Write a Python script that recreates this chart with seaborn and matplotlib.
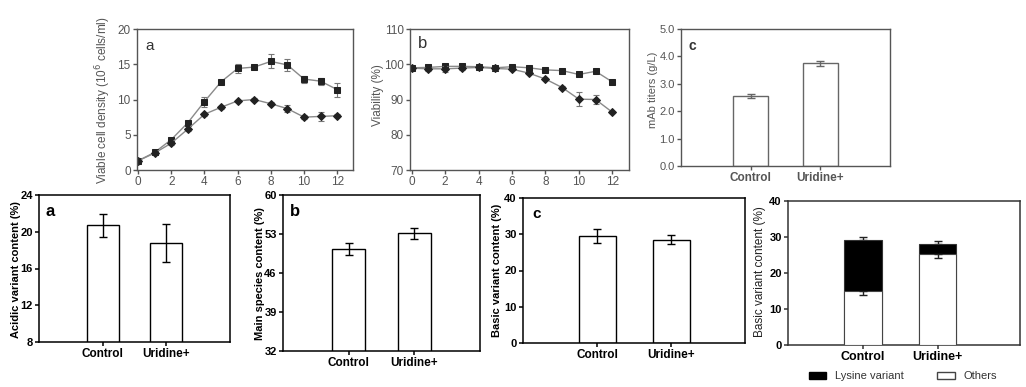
import matplotlib
matplotlib.use("Agg")
import matplotlib.pyplot as plt
import seaborn as sns
import numpy as np
import pandas as pd
from matplotlib.patches import Patch

# ---- data ----
days = list(range(13))
vcd_uridine = [1.3, 2.5, 4.3, 6.7, 9.7, 12.5, 14.4, 14.6, 15.4, 14.9, 12.9, 12.6, 11.4]
vcd_uridine_err = [0.1, 0.1, 0.3, 0.3, 0.7, 0.2, 0.6, 0.3, 1.0, 0.8, 0.5, 0.5, 1.0]
vcd_control = [1.3, 2.4, 3.8, 5.8, 7.9, 8.9, 9.8, 10.0, 9.4, 8.7, 7.5, 7.6, 7.7]
vcd_control_err = [0.1, 0.1, 0.2, 0.2, 0.2, 0.2, 0.2, 0.2, 0.2, 0.5, 0.3, 0.6, 0.2]

via_uridine = [99.0, 99.1, 99.4, 99.4, 99.3, 99.0, 99.3, 99.0, 98.4, 98.2, 97.1, 98.0, 95.0]
via_uridine_err = [0.2, 0.4, 0.5, 0.5, 0.3, 0.4, 0.4, 0.2, 0.3, 0.3, 0.3, 0.3, 0.6]
via_control = [98.9, 98.7, 98.7, 98.9, 99.1, 98.8, 98.6, 97.5, 95.8, 93.4, 90.1, 90.0, 86.4]
via_control_err = [0.2, 0.5, 0.8, 0.5, 0.3, 0.3, 0.3, 0.3, 0.3, 0.3, 1.9, 1.3, 0.3]

groups = ["Control", "Uridine+"]
titer = [2.55, 3.75]
titer_err = [0.08, 0.10]
acidic = [20.7, 18.8]
acidic_err = [1.25, 2.05]
main_sp = [50.3, 53.1]
main_sp_err = [1.1, 1.05]
basic = [29.5, 28.5]
basic_err = [1.9, 1.25]
others = [15.0, 25.3]
others_err = [1.1, 1.0]
lysine = [14.1, 2.8]
basic_tot_err = [0.9, 0.8]

sns.set_theme(style="ticks")
plt.rcParams["font.family"] = ["Liberation Sans", "DejaVu Sans"]

W, H = 1026, 387
fig = plt.figure(figsize=(W / 100, H / 100), dpi=100)
fig.patch.set_facecolor("white")


def add_ax(l, t, r, b):
    return fig.add_axes([l / W, 1 - b / H, (r - l) / W, (b - t) / H])


def style_ax(ax, col, lw, bold, size=8):
    for s in ax.spines.values():
        s.set_color(col)
        s.set_linewidth(lw)
        s.set_visible(True)
    ax.tick_params(colors=col, length=3, width=lw, labelsize=size, pad=1.5)
    for lab in ax.get_xticklabels() + ax.get_yticklabels():
        lab.set_fontweight("bold" if bold else "normal")
        lab.set_color(col if not bold else "black")
    ax.set_xlabel("")
    ax.set_ylabel("")


def ylab(x, y, s, col="black", bold=True, size=8):
    fig.text(x / W, 1 - y / H, s, rotation=90, ha="center", va="center",
             fontsize=size, color=col, fontweight="bold" if bold else "normal")


def letter(x, y, s, bold, size, col="black"):
    fig.text(x / W, 1 - y / H, s, ha="center", va="center", fontsize=size,
             fontweight="bold" if bold else "normal", color=col)


gray = "#555555"

# ---- top a: viable cell density ----
df_vcd = pd.DataFrame({"day": days * 2, "vcd": vcd_uridine + vcd_control,
                       "grp": ["Uridine+"] * 13 + ["Control"] * 13})
ax = add_ax(137, 29, 353, 170)
for g, mk, ms, err in [("Uridine+", "s", 4.5, vcd_uridine_err), ("Control", "D", 3.8, vcd_control_err)]:
    sub = df_vcd[df_vcd.grp == g]
    ax.errorbar(sub.day, sub.vcd, yerr=err, fmt="none", ecolor="#777777", capsize=2, lw=0.8, capthick=0.8)
    sns.lineplot(data=sub, x="day", y="vcd", ax=ax, color="#8a8a8a", lw=1, marker=mk,
                 markersize=ms, markerfacecolor="#222222", markeredgecolor="#222222")
ax.set_xlim(-0.06, 12.95)
ax.set_ylim(0, 20)
ax.set_xticks(range(0, 13, 2))
ax.set_yticks([0, 5, 10, 15, 20])
style_ax(ax, gray, 1.0, False, 8.5)
ylab(103, 100, "Viable cell density (10$^6$ cells/ml)", col=gray, bold=False, size=8.5)
letter(150, 46, "a", False, 11, "#333333")

# ---- top b: viability ----
df_via = pd.DataFrame({"day": days * 2, "via": via_uridine + via_control,
                       "grp": ["Uridine+"] * 13 + ["Control"] * 13})
ax = add_ax(410, 29, 629, 170)
for g, mk, ms, err in [("Uridine+", "s", 4.5, via_uridine_err), ("Control", "D", 3.8, via_control_err)]:
    sub = df_via[df_via.grp == g]
    ax.errorbar(sub.day, sub.via, yerr=err, fmt="none", ecolor="#777777", capsize=2, lw=0.8, capthick=0.8)
    sns.lineplot(data=sub, x="day", y="via", ax=ax, color="#8a8a8a", lw=1, marker=mk,
                 markersize=ms, markerfacecolor="#222222", markeredgecolor="#222222")
ax.set_xlim(-0.1, 13)
ax.set_ylim(70, 110)
ax.set_xticks(range(0, 13, 2))
ax.set_yticks([70, 80, 90, 100, 110])
style_ax(ax, gray, 1.0, False, 8.5)
ylab(378, 95, "Viability (%)", col=gray, bold=False, size=8.5)
letter(423, 44, "b", False, 12, "#333333")


def bars(ax, vals, errs, ecol, lw):
    d = pd.DataFrame({"grp": groups, "v": vals})
    sns.barplot(data=d, x="grp", y="v", ax=ax, color="white", edgecolor=ecol,
                linewidth=lw, width=0.5, errorbar=None)
    ax.errorbar([0, 1], vals, yerr=errs, fmt="none", ecolor=ecol, capsize=3, lw=lw, capthick=lw)
    ax.set_xlim(-1.0, 2.0)


# ---- top c: mAb titers ----
ax = add_ax(681, 29, 890, 166)
bars(ax, titer, titer_err, "#666666", 1.0)
ax.set_ylim(0, 5)
ax.set_yticks(np.arange(0, 5.01, 1.0))
ax.set_yticklabels([f"{v:.1f}" for v in np.arange(0, 5.01, 1.0)])
style_ax(ax, gray, 1.0, False)
for lab in ax.get_xticklabels():
    lab.set_fontsize(8.5)
    lab.set_fontweight("bold")
ylab(653, 90, "mAb titers (g/L)", col=gray, bold=False, size=8)
letter(692, 46, "c", True, 10, "#333333")

# ---- bottom a: acidic ----
ax = add_ax(39, 195, 230, 342)
bars(ax, acidic, acidic_err, "black", 1.0)
ax.set_ylim(8, 24)
ax.set_yticks([8, 12, 16, 20, 24])
style_ax(ax, "black", 1.1, True)
for lab in ax.get_xticklabels():
    lab.set_fontsize(8.5)
ylab(16, 270, "Acidic variant content (%)")
letter(50, 212, "a", True, 12)

# ---- bottom b: main species ----
ax = add_ax(283, 195, 480, 351)
bars(ax, main_sp, main_sp_err, "black", 1.0)
ax.set_ylim(32, 60)
ax.set_yticks([32, 39, 46, 53, 60])
style_ax(ax, "black", 1.1, True)
for lab in ax.get_xticklabels():
    lab.set_fontsize(8.5)
ylab(260, 274, "Main species content (%)")
letter(295, 211, "b", True, 12)

# ---- bottom c: basic ----
ax = add_ax(523, 198, 745, 343)
bars(ax, basic, basic_err, "black", 1.0)
ax.set_ylim(0, 40)
ax.set_yticks([0, 10, 20, 30, 40])
style_ax(ax, "black", 1.1, True)
for lab in ax.get_xticklabels():
    lab.set_fontsize(8.5)
ylab(497, 270, "Basic variant content (%)")
letter(537, 214, "c", True, 11)

# ---- bottom d: stacked basic ----
ax = add_ax(788, 201, 1020, 345)
tot = [o + l for o, l in zip(others, lysine)]
d_tot = pd.DataFrame({"grp": groups, "v": tot})
d_oth = pd.DataFrame({"grp": groups, "v": others})
ax.errorbar([0, 1], tot, yerr=[[0, 0], basic_tot_err], fmt="none", ecolor="#222222",
            capsize=3, lw=1, capthick=1, zorder=1)
sns.barplot(data=d_tot, x="grp", y="v", ax=ax, color="black", edgecolor="#333333",
            linewidth=0.8, width=0.5, errorbar=None, zorder=2)
sns.barplot(data=d_oth, x="grp", y="v", ax=ax, color="white", edgecolor="#444444",
            linewidth=0.8, width=0.5, errorbar=None, zorder=3)
ax.errorbar([0, 1], others, yerr=[others_err, [0, 0]], fmt="none", ecolor="#222222",
            capsize=3, lw=1, capthick=1, zorder=4)
ax.set_xlim(-1.0, 2.1)
ax.set_ylim(0, 40)
ax.set_yticks([0, 10, 20, 30, 40])
style_ax(ax, "#333333", 1.1, True)
for lab in ax.get_xticklabels():
    lab.set_fontsize(9)
ylab(760, 272, "Basic variant content (%)", col="#222222", bold=False, size=8.5)
handles = [Patch(facecolor="black", edgecolor="black", label="Lysine variant"),
           Patch(facecolor="white", edgecolor="#444444", label="Others")]
fig.legend(handles=handles, loc="center", bbox_to_anchor=(903 / W, 1 - 376 / H), ncol=2,
           frameon=False, fontsize=8, handlelength=1.6, handleheight=0.6,
           columnspacing=3.0, handletextpad=0.8, labelcolor="#333333")

fig.savefig("out.png", dpi=100, facecolor="white")
